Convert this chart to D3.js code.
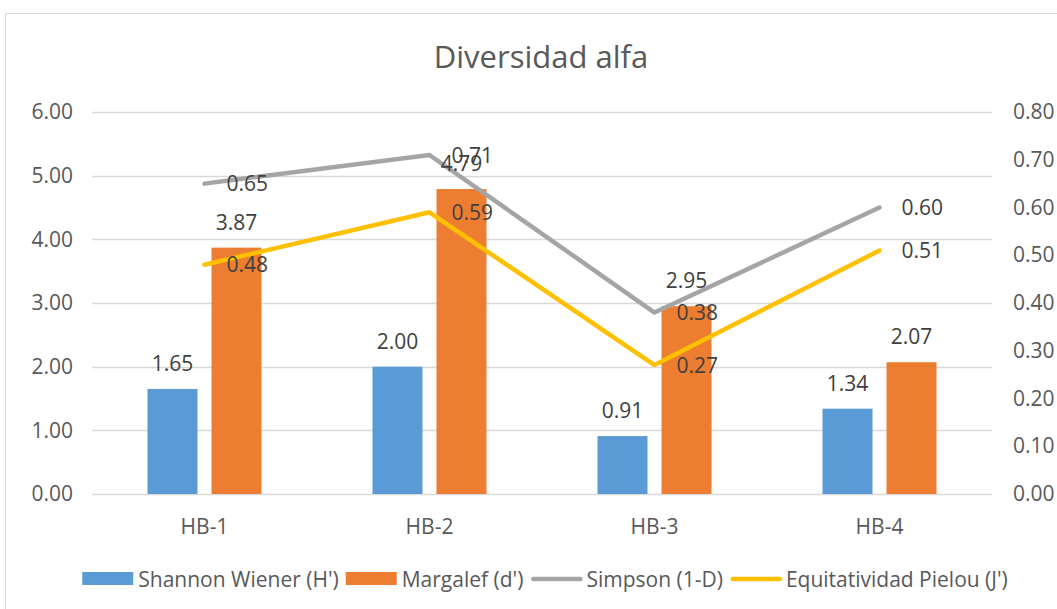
<!DOCTYPE html>
<html>
<head>
    <meta charset="utf-8">
    <title>Diversidad alfa</title>
    <style>
        body { margin: 0; background: #fff; }
        text { font-family: "Open Sans", sans-serif; }
    </style>
</head>
<body>
<div id="container"></div>

<script src="https://d3js.org/d3.v7.min.js" type="text/javascript"></script>
<script type="text/javascript">
    // data
    const categories = ['HB-1', 'HB-2', 'HB-3', 'HB-4'];
    const shannon = [1.65, 2.00, 0.91, 1.34];
    const margalef = [3.87, 4.79, 2.95, 2.07];
    const simpson = [0.65, 0.71, 0.38, 0.60];
    const pielou = [0.48, 0.59, 0.27, 0.51];
    const leftTicks = [0, 1, 2, 3, 4, 5, 6];
    const rightTicks = [0, 0.1, 0.2, 0.3, 0.4, 0.5, 0.6, 0.7, 0.8];

    const barSeries = [
        {name: "Shannon Wiener (H')", values: shannon, color: '#5b9bd5'},
        {name: "Margalef (d')", values: margalef, color: '#ed7d31'}
    ];
    const lineSeries = [
        {name: 'Simpson (1-D)', values: simpson, color: '#a5a5a5'},
        {name: "Equitatividad Pielou (J')", values: pielou, color: '#ffc000'}
    ];

    let w = 1057;
    let h = 609;
    const margin = {top: 112, left: 92, right: 65, bottom: 115};

    const svg = d3.select('#container')
        .append('svg')
        .attr('width', w)
        .attr('height', h);

    // chart frame
    svg.append('rect')
        .attr('x', 5.5).attr('y', 13.5)
        .attr('width', w + 20).attr('height', h + 20)
        .style('fill', '#fff')
        .style('stroke', '#d9d9d9')
        .style('stroke-width', 1);

    svg.append('text')
        .attr('x', 541)
        .attr('y', 68)
        .attr('text-anchor', 'middle')
        .style('font-size', '31px')
        .style('fill', '#595959')
        .text('Diversidad alfa');

    const x = d3.scaleBand().domain(categories).range([margin.left, w - margin.right]).padding(0);
    const bw = x.bandwidth();
    const x1 = d3.scaleBand().domain(barSeries.map(d => d.name))
        .range([bw / 2 - 57, bw / 2 + 57]).paddingInner(0.219).paddingOuter(0);
    const yL = d3.scaleLinear().domain([0, 6]).range([h - margin.bottom, margin.top]);
    const yR = d3.scaleLinear().domain([0, 0.8]).range([h - margin.bottom, margin.top]);

    // gridlines
    svg.append('g').selectAll('line')
        .data(leftTicks)
        .join('line')
        .attr('x1', margin.left).attr('x2', w - margin.right)
        .attr('y1', d => Math.round(yL(d)) + 0.5).attr('y2', d => Math.round(yL(d)) + 0.5)
        .style('stroke', '#d9d9d9')
        .style('stroke-width', 1.3);

    const fmt = d3.format('.2f');

    const axL = svg.append('g')
        .attr('transform', `translate(${margin.left}, 0)`)
        .call(d3.axisLeft(yL).tickValues(leftTicks).tickFormat(fmt).tickSize(0).tickPadding(19));
    const axR = svg.append('g')
        .attr('transform', `translate(${w - margin.right}, 0)`)
        .call(d3.axisRight(yR).tickValues(rightTicks).tickFormat(fmt).tickSize(0).tickPadding(21));
    const axB = svg.append('g')
        .attr('transform', `translate(0, ${h - margin.bottom})`)
        .call(d3.axisBottom(x).tickSize(0).tickPadding(25));

    [axL, axR, axB].forEach(a => {
        a.select('.domain').remove();
        a.selectAll('text')
            .style('font-family', '"Open Sans", sans-serif')
            .style('font-size', '21px')
            .style('fill', '#595959');
    });

    // bars
    barSeries.forEach(s => {
        const g = svg.append('g');
        g.selectAll('rect')
            .data(s.values)
            .join('rect')
            .attr('x', (d, i) => x(categories[i]) + x1(s.name))
            .attr('y', d => yL(d))
            .attr('width', x1.bandwidth())
            .attr('height', d => yL(0) - yL(d))
            .style('fill', s.color);
    });

    // lines
    const line = d3.line()
        .x((d, i) => x(categories[i]) + bw / 2)
        .y(d => yR(d));

    lineSeries.forEach(s => {
        svg.append('path')
            .datum(s.values)
            .attr('d', line)
            .style('fill', 'none')
            .style('stroke', s.color)
            .style('stroke-width', 4.5)
            .style('stroke-linecap', 'round')
            .style('stroke-linejoin', 'round');
    });

    // labels
    barSeries.forEach(s => {
        svg.append('g').selectAll('text')
            .data(s.values)
            .join('text')
            .attr('x', (d, i) => x(categories[i]) + x1(s.name) + x1.bandwidth() / 2)
            .attr('y', d => yL(d) - 18)
            .attr('text-anchor', 'middle')
            .style('font-size', '21px')
            .style('fill', '#404040')
            .text(d => fmt(d));
    });

    lineSeries.forEach(s => {
        svg.append('g').selectAll('text')
            .data(s.values)
            .join('text')
            .attr('x', (d, i) => x(categories[i]) + bw / 2 + 22)
            .attr('y', d => yR(d))
            .attr('dy', '0.36em')
            .style('font-size', '21px')
            .style('fill', '#404040')
            .text(d => fmt(d));
    });

    // legend
    const legendItems = barSeries.map(d => ({...d, type: 'bar'}))
        .concat(lineSeries.map(d => ({...d, type: 'line'})));
    const legend = svg.append('g');
    let lx = 0;
    legendItems.forEach(item => {
        const g = legend.append('g').attr('transform', `translate(${lx}, 0)`);
        if (item.type === 'bar') {
            g.append('rect')
                .attr('x', 0).attr('y', -7)
                .attr('width', 51).attr('height', 13)
                .style('fill', item.color);
        } else {
            g.append('line')
                .attr('x1', 3).attr('x2', 50)
                .attr('y1', 0).attr('y2', 0)
                .style('stroke', item.color)
                .style('stroke-width', 4.5)
                .style('stroke-linecap', 'round');
        }
        const t = g.append('text')
            .attr('x', 56)
            .attr('y', 0)
            .attr('dy', '0.36em')
            .style('font-size', '21px')
            .style('fill', '#595959')
            .text(item.name);
        lx += 56 + t.node().getComputedTextLength() + 7;
    });
    const lw = lx - 7;
    legend.attr('transform', `translate(${545 - lw / 2}, 579)`);
</script>

</body>
</html>
